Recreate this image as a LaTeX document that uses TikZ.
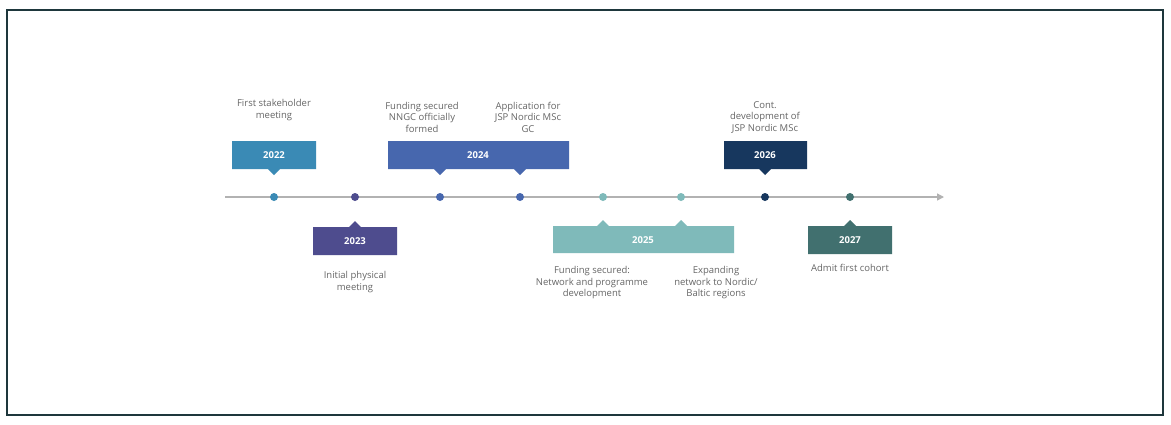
\documentclass[tikz,border=0pt]{standalone}
\usepackage{fontspec}
\setmainfont{Open Sans}
\usetikzlibrary{arrows.meta}
\definecolor{cA}{HTML}{3A8AB5}
\definecolor{cB}{HTML}{4E4C8E}
\definecolor{cC}{HTML}{4767AE}
\definecolor{cD}{HTML}{7FBABA}
\definecolor{cE}{HTML}{17375E}
\definecolor{cF}{HTML}{41706F}
\definecolor{txt}{HTML}{666666}
\begin{document}
\begin{tikzpicture}[x=1pt,y=-1pt,
  lab/.style={text=txt,font=\fontsize{9.5}{11.5}\selectfont,align=center,anchor=center},
  yr/.style={text=white,font=\fontsize{9.5}{11}\selectfont\bfseries},
  dot/.style={circle,inner sep=0pt,minimum size=8pt}]
\useasboundingbox (0,0) rectangle (1171,424);
\fill[white] (0,0) rectangle (1171,424);
\draw[line width=1.2pt,color={rgb,255:red,30;green,55;blue,60}] (7,10) rectangle (1163,415);
\coordinate (ls) at (225,197); \coordinate (le) at (944,197);
\draw[gray!60,line width=1.3pt,-{Triangle[length=7pt,width=7pt]}] (ls) -- (le);
% dots
\foreach \n/\x/\c in {d1/274/cA,d2/355/cB,d3/440/cC,d4/520/cC,d5/603/cD,d6/681/cD,d7/765/cE,d8/850/cF}
  \node[dot,fill=\c] (\n) at (\x,197) {};
% top boxes
\fill[cA] (232,141) rectangle (316,169) (268,169) -- (274,175) -- (280,169) -- cycle;
\node[yr] (y22) at (274,155) {2022};
\fill[cC] (388,141) rectangle (569,169) (434,169) -- (440,175) -- (446,169) -- cycle (514,169) -- (520,175) -- (526,169) -- cycle;
\node[yr] (y24) at (478,155) {2024};
\fill[cE] (724,141) rectangle (807,169) (759,169) -- (765,175) -- (771,169) -- cycle;
\node[yr] (y26) at (765,155) {2026};
% bottom boxes
\fill[cB] (313,227) rectangle (397,255) (349,227) -- (355,221) -- (361,227) -- cycle;
\node[yr] (y23) at (355,241) {2023};
\fill[cD] (553,226) rectangle (734,253) (597,226) -- (603,220) -- (609,226) -- cycle (675,226) -- (681,220) -- (687,226) -- cycle;
\node[yr] (y25) at (643,240) {2025};
\fill[cF] (808,226) rectangle (892,254) (844,226) -- (850,220) -- (856,226) -- cycle;
\node[yr] (y27) at (850,240) {2027};
% labels
\node[lab] (t1) at (274,110) {First stakeholder\\meeting};
\node[lab] (t3) at (422,117) {Funding secured\\NNGC officially\\formed};
\node[lab] (t4) at (528,117) {Application for\\JSP Nordic MSc\\GC};
\node[lab] (t7) at (765,117) {Cont.\\development of\\JSP Nordic MSc};
\node[lab] (t2) at (355,282) {Initial physical\\meeting};
\node[lab] (t5) at (592,283) {Funding secured:\\Network and programme\\development};
\node[lab] (t6) at (716,283) {Expanding\\network to Nordic/\\Baltic regions};
\node[lab] (t8) at (850,268) {Admit first cohort};
\end{tikzpicture}
\end{document}
